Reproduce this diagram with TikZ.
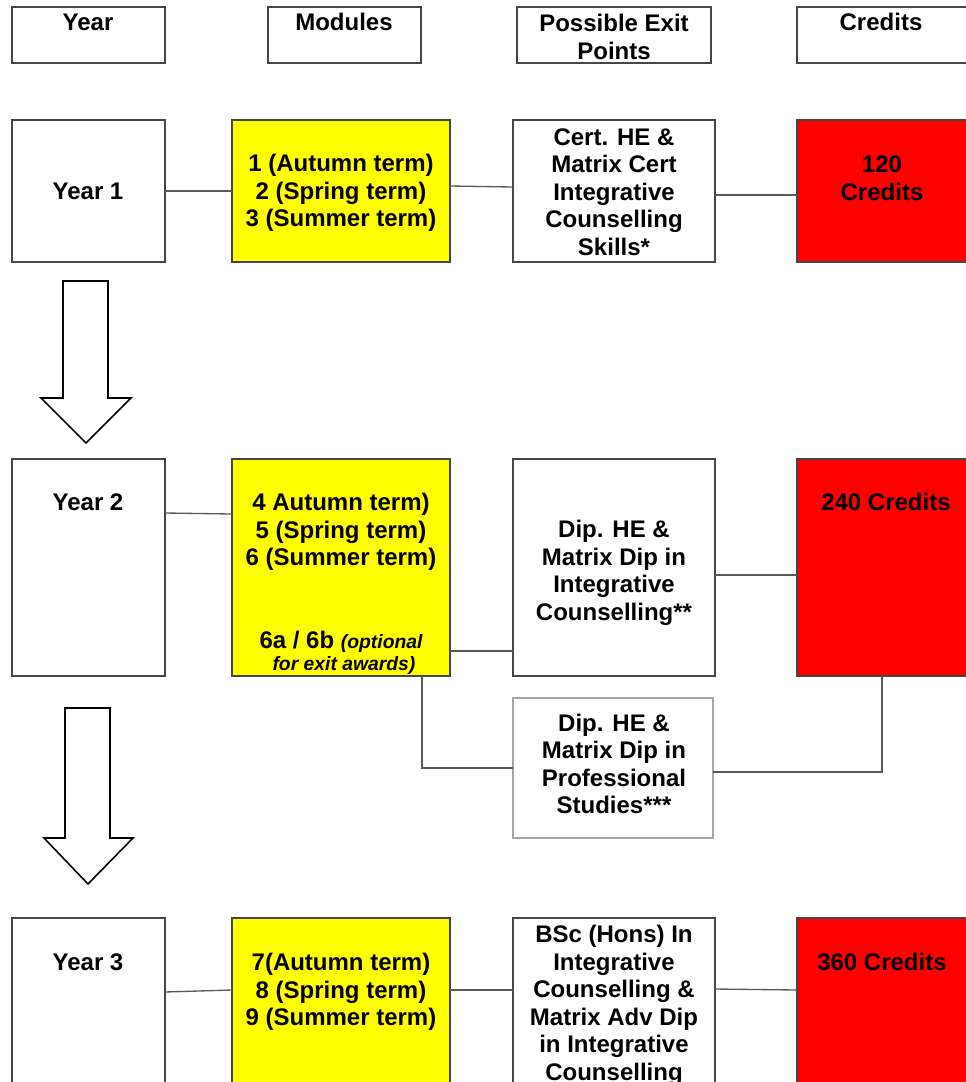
\documentclass[tikz,border=0pt]{standalone}
\usepackage{fontspec}
\setmainfont{Liberation Sans}
\usetikzlibrary{fit}
\definecolor{boxline}{RGB}{70,70,70}
\definecolor{conn}{RGB}{90,90,90}
\definecolor{yel}{RGB}{255,255,0}
\definecolor{redfill}{RGB}{255,0,0}
\begin{document}
\begin{tikzpicture}[x=0.75pt,y=-0.75pt,
  box/.style={draw=boxline,line width=1pt,inner sep=0pt,outer sep=0pt},
  ybox/.style={box,fill=yel},
  rbox/.style={box,fill=redfill},
  lbox/.style={draw=gray!70,line width=1pt,inner sep=0pt,outer sep=0pt},
  txt/.style={align=center,font=\fontsize{18pt}{20.6pt}\selectfont\bfseries,inner sep=0pt,text=black},
  itx/.style={align=center,font=\fontsize{14.5pt}{17pt}\selectfont\bfseries\itshape,inner sep=0pt},
  conn/.style={draw=conn,line width=1pt},
  bigarrow/.style={draw=black,line width=1.2pt,fill=white,line join=miter}]
\useasboundingbox (0,0) rectangle (966,1082);

% headers
\node[box,fit={(12,7)(165,63)}] (hy) {};
\node[box,fit={(268,7)(421,63)}] (hm) {};
\node[box,fit={(517,7)(711,63)}] (he) {};
\node[box,fit={(797,7)(1000,63)}] (hc) {};
\node[txt] (hyt) at (88,22) {Year};
\node[txt] (hmt) at (344,22) {Modules};
\node[txt] (het) at (614,37) {Possible Exit\\Points};
\node[txt] (hct) at (881,22) {Credits};

% row 1
\node[box,fit={(12,120)(165,262)}] (y1) {};
\node[ybox,fit={(232,120)(450,262)}] (m1) {};
\node[box,fit={(513,120)(715,262)}] (e1) {};
\node[rbox,fit={(797,120)(1000,262)}] (c1) {};
\node[txt] (y1t) at (88,191) {Year 1};
\node[txt] (m1t) at (341,193) {1 (Autumn term)\\2 (Spring term)\\3 (Summer term)};
\node[txt] (e1t) at (614,192) {Cert. HE \&\\Matrix Cert\\Integrative\\Counselling\\Skills*};
\node[txt] (c1t) at (882,178) {120\\Credits};
\draw[conn] (y1.east |- 0,191) -- (m1.west |- 0,191);
\draw[conn] (m1.east |- 0,186) -- (e1.west |- 0,187);
\draw[conn] (e1.east |- 0,195) -- (c1.west |- 0,195);

% arrow 1
\draw[bigarrow] (63,281) -- (108,281) -- (108,398) -- (131,398) -- (86,443) -- (41,398) -- (63,398) -- cycle;

% row 2
\node[box,fit={(12,459)(165,676)}] (y2) {};
\node[ybox,fit={(232,459)(450,676)}] (m2) {};
\node[box,fit={(513,459)(715,676)}] (e2) {};
\node[rbox,fit={(797,459)(1000,676)}] (c2) {};
\node[lbox,fit={(513,698)(713,838)}] (e2b) {};
\node[txt] (y2t) at (88,502) {Year 2};
\node[txt] (m2t) at (341,532) {4 Autumn term)\\5 (Spring term)\\6 (Summer term)};
\node[txt,anchor=base] (m2u) at (341,648) {6a / 6b \fontsize{14.5pt}{17pt}\selectfont\itshape(optional};
\node[itx,anchor=base] (m2v) at (344,670) {for exit awards)};
\node[txt] (e2t) at (614,573) {Dip. HE \&\\Matrix Dip in\\Integrative\\Counselling**};
\node[txt] (e2bt) at (614,764) {Dip. HE \&\\Matrix Dip in\\Professional\\Studies***};
\node[txt] (c2t) at (886,502) {240 Credits};
\draw[conn] (y2.east |- 0,513) -- (m2.west |- 0,514);
\draw[conn] (m2.east |- 0,651) -- (e2.west |- 0,651);
\draw[conn] (e2.east |- 0,575) -- (c2.west |- 0,575);
\draw[conn] (m2.south -| 422,0) |- (e2b.west |- 0,768);
\draw[conn] (e2b.east |- 0,772) -| (c2.south -| 882,0);

% arrow 2
\draw[bigarrow] (65,708) -- (110,708) -- (110,838) -- (133,838) -- (88,884) -- (44,838) -- (65,838) -- cycle;

% row 3
\node[box,fit={(12,918)(165,1110)}] (y3) {};
\node[ybox,fit={(232,918)(450,1110)}] (m3) {};
\node[box,fit={(513,918)(715,1110)}] (e3) {};
\node[rbox,fit={(797,918)(1000,1110)}] (c3) {};
\node[txt] (y3t) at (88,962) {Year 3};
\node[txt] (m3t) at (341,992) {7(Autumn term)\\8 (Spring term)\\9 (Summer term)};
\node[txt,anchor=north] (e3t) at (614,925) {BSc (Hons) In\\Integrative\\Counselling \&\\Matrix Adv Dip\\in Integrative\\Counselling};
\node[txt] (c3t) at (882,962) {360 Credits};
\draw[conn] (y3.east |- 0,992) -- (m3.west |- 0,990);
\draw[conn] (m3.east |- 0,990) -- (e3.west |- 0,990);
\draw[conn] (e3.east |- 0,989) -- (c3.west |- 0,990);
\end{tikzpicture}
\end{document}
